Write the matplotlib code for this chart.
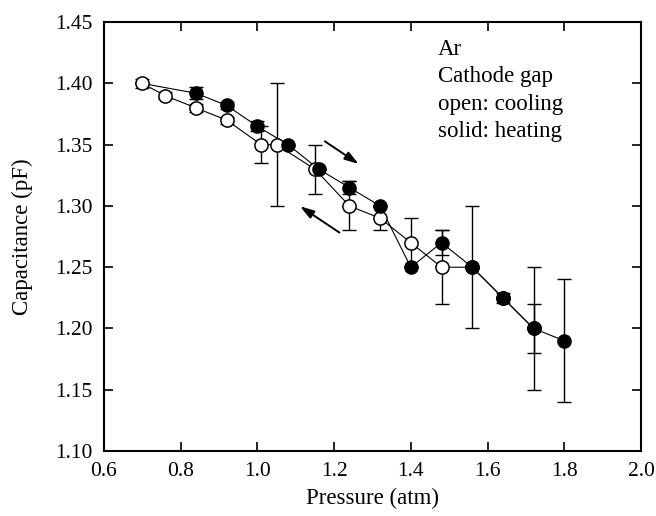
import numpy as np
import matplotlib
matplotlib.use("Agg")
import matplotlib.pyplot as plt

plt.rcParams['font.family'] = ['Liberation Serif', 'DejaVu Serif']
plt.rcParams['mathtext.fontset'] = 'stix'

#%% data
# cooling (open circles)
cool_p = [0.70, 0.76, 0.84, 0.92, 1.01, 1.05, 1.15, 1.24, 1.32, 1.40, 1.48, 1.56, 1.64, 1.72]
cool_c = [1.400, 1.390, 1.380, 1.370, 1.350, 1.350, 1.330, 1.300, 1.290, 1.270, 1.250, 1.250, 1.225, 1.200]
cool_e = [0.004, 0.003, 0.003, 0.003, 0.015, 0.050, 0.020, 0.020, 0.010, 0.020, 0.030, 0.0, 0.0, 0.020]

# heating (solid circles), starts from the first cooling point
heat_p = [0.70, 0.84, 0.92, 1.00, 1.08, 1.16, 1.24, 1.32, 1.40, 1.48, 1.56, 1.64, 1.72, 1.80]
heat_c = [1.400, 1.392, 1.382, 1.365, 1.350, 1.330, 1.315, 1.300, 1.250, 1.270, 1.250, 1.225, 1.200, 1.190]
heat_e = [0.0, 0.005, 0.003, 0.004, 0.0, 0.0, 0.005, 0.0, 0.0, 0.010, 0.050, 0.004, 0.050, 0.050]

notes = ['Ar', 'Cathode gap', 'open: cooling', 'solid: heating']

#%% plot
fig = plt.figure(figsize=(6.56, 5.16), dpi=100)
ax = fig.add_axes([0.1585, 0.126, 0.8186, 0.831])

ax.plot(cool_p, cool_c, 'k-', lw=0.8, zorder=2)
ax.plot(heat_p, heat_c, 'k-', lw=0.8, zorder=2)
ax.errorbar(cool_p, cool_c, yerr=cool_e, fmt='none', ecolor='k', elinewidth=1.0,
            capsize=5, capthick=1.0, zorder=1)
ax.errorbar(heat_p, heat_c, yerr=heat_e, fmt='none', ecolor='k', elinewidth=1.0,
            capsize=5, capthick=1.0, zorder=1)
ax.plot(cool_p, cool_c, 'o', ms=9.5, mfc='white', mec='k', mew=1.1, zorder=3)
ax.plot(heat_p[1:], heat_c[1:], 'o', ms=9.5, mfc='k', mec='k', zorder=4)

# arrows showing direction
arrow = dict(arrowstyle='-|>,head_length=0.7,head_width=0.22', color='k', lw=1.4,
             mutation_scale=12)
ax.annotate('', xy=(1.27, 1.333), xytext=(1.17, 1.354), arrowprops=arrow)
ax.annotate('', xy=(1.105, 1.301), xytext=(1.22, 1.277), arrowprops=arrow)

for i, s in enumerate(notes):
    ax.text(0.622, 0.923 - i*0.0635, s, transform=ax.transAxes, fontsize=16.5,
            va='baseline', ha='left')

ax.set_xlim(0.6, 2.0)
ax.set_ylim(1.10, 1.45)
ax.set_xticks(np.arange(0.6, 2.01, 0.2))
ax.set_yticks(np.arange(1.10, 1.451, 0.05))
ax.set_xticklabels(['%.1f' % v for v in np.arange(0.6, 2.01, 0.2)])
ax.set_yticklabels(['%.2f' % v for v in np.arange(1.10, 1.451, 0.05)])
ax.tick_params(direction='in', length=6.5, width=1.2, top=True, right=True,
               labelsize=15.5, pad=8)
for sp in ax.spines.values():
    sp.set_linewidth(1.5)
ax.set_xlabel('Pressure (atm)', fontsize=16.5, labelpad=5)
ax.set_ylabel('Capacitance (pF)', fontsize=16.5, labelpad=16)

fig.savefig('out.png', dpi=100)
